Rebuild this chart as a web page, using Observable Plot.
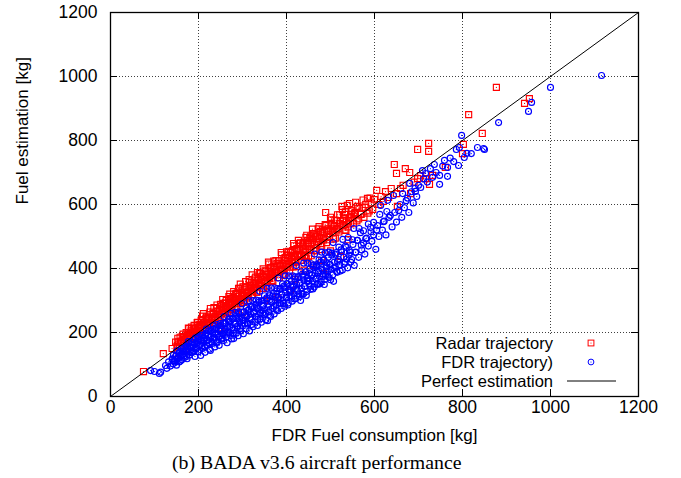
<!DOCTYPE html>
<html><head><meta charset="utf-8">
<script src="https://cdn.jsdelivr.net/npm/d3@7"></script>
<script src="https://cdn.jsdelivr.net/npm/@observablehq/plot@0.6"></script>
<style>
body{margin:0;background:#fff;}
#wrap{position:relative;width:681px;height:478px;}
#caption{position:absolute;top:451px;left:172px;white-space:nowrap;font-family:"Liberation Serif","Times New Roman",serif;font-size:19.8px;line-height:22px;color:#000;}
</style></head><body>
<div id="wrap"><div id="chart"></div><div id="caption">(b) BADA v3.6 aircraft performance</div></div>
<script>
const xTicks = [0, 200, 400, 600, 800, 1000, 1200];
const yTicks = [0, 200, 400, 600, 800, 1000, 1200];
const xLabel = "FDR Fuel consumption [kg]";
const yLabel = "Fuel estimation [kg]";
const legendLabels = ["Radar trajectory", "FDR trajectory)", "Perfect estimation"];
const perfectLine = [[0, 0], [1200, 1200]];

// Radar trajectory estimates [FDR fuel, estimated fuel]
const radarPoints = [
[75,78],[120,134],[140,150],[148,170],[150,135],[152,160],[158,185],[160,172],[165,195],[168,178],[170,150],[172,200],[175,190],
[178,212],[180,185],[183,205],[186,196],[190,222],[192,210],[195,200],[197,231],[200,215],[200,180],[203,206],[206,238],[208,222],
[211,259],[213,230],[216,214],[219,245],[222,236],[225,228],[228,256],[231,244],[235,278],[237,250],[240,238],[243,265],[246,255],
[249,246],[250,215],[252,282],[254,268],[257,291],[259,258],[262,276],[265,262],[268,296],[270,283],[273,306],[275,272],[278,290],
[281,300],[283,278],[286,318],[288,296],[291,338],[293,305],[296,290],[300,325],[300,262],[302,312],[305,300],[308,335],[311,322],
[314,308],[318,347],[320,330],[323,318],[326,352],[329,340],[332,326],[335,362],[338,346],[341,384],[343,355],[346,338],[349,372],
[350,300],[352,360],[355,345],[358,390],[361,372],[364,403],[366,380],[369,360],[372,398],[375,386],[379,416],[379,309],[381,392],
[384,372],[387,410],[390,398],[393,380],[396,425],[399,405],[402,441],[404,415],[407,392],[409,450],[409,331],[412,428],[414,456],
[415,405],[418,440],[420,365],[421,420],[424,462],[427,488],[430,445],[433,425],[436,470],[439,481],[440,395],[442,452],[445,432],
[448,488],[450,478],[453,460],[456,440],[458,495],[460,410],[461,509],[464,475],[467,455],[470,500],[473,485],[477,516],[480,470],
[480,425],[483,495],[484,384],[486,512],[489,575],[492,490],[495,520],[498,500],[500,455],[501,538],[505,512],[508,530],[511,495],
[514,550],[517,525],[520,540],[523,438],[527,584],[530,556],[533,520],[536,545],[540,530],[540,490],[543,603],[546,560],[548,569],
[552,540],[556,575],[561,594],[564,555],[568,569],[572,590],[576,560],[580,600],[584,619],[588,580],[592,605],[596,585],[600,615],
[605,644],[610,600],[615,625],[620,610],[625,640],[632,622],[638,650],[645,725],[650,697],[650,634],[652,594],[659,650],[665,660],
[670,712],[680,700],[682,634],[690,670],[698,772],[698,681],[705,690],[716,681],[723,791],[723,766],[725,663],[732,691],[761,716],
[800,759],[802,788],[814,881],[845,822],[877,966],[941,916],[952,931],
[151,156],[154,171],[157,154],[161,172],[163,187],[167,169],[169,184],[173,168],[176,199],[179,188],[181,181],[184,217],[187,198],
[189,187],[193,212],[196,204],[199,223],[201,197],[204,220],[207,240],[210,214],[212,231],[214,208],[217,245],[220,231],[223,223],
[226,264],[229,243],[232,230],[234,260],[238,248],[241,275],[244,239],[247,267],[250,288],[253,258],[256,279],[258,250],[261,292],
[264,277],[267,267],[269,312],[272,288],[276,273],[279,307],[282,290],[285,322],[287,281],[290,313],[294,338],[297,303],[299,326],
[303,294],[306,343],[309,324],[312,312],[315,365],[317,336],[321,318],[324,356],[327,340],[330,373],[333,326],[336,363],[339,386],
[342,349],[345,376],[348,338],[351,393],[354,372],[357,357],[360,414],[363,385],[367,363],[370,407],[373,388],[376,425],[380,372],
[383,414],[386,394],[389,443],[392,416],[395,383],[398,434],[401,413],[405,454],[408,404],[411,440],[414,418],[417,471],[420,437],
[423,406],[426,460],[429,438],[432,480],[435,426],[438,464],[441,441],[444,497],[447,469],[450,437],[453,494],[456,470],[459,523],
[462,457],[466,499],[469,474],[472,524],[475,494],[478,459],[482,521],[485,495],[488,537],[491,481],[494,524],[497,497],[500,560],
[504,524],[507,492],[510,551],[513,523],[516,568],[519,514],[522,548],[526,594],[529,534],[532,569],[535,519],[538,597],[542,558],
[545,540],[549,582],[553,564],[557,607],[560,549],[565,588],[570,570],[574,614],[579,591],[585,573],[590,620],
[153,182],[159,169],[166,186],[171,178],[177,214],[182,198],[188,214],[194,198],[198,232],[203,225],[209,251],[215,226],[218,249],
[224,242],[227,275],[233,261],[236,241],[242,286],[248,273],[251,261],[255,303],[260,278],[263,300],[266,274],[271,320],[274,304],
[277,291],[280,328],[284,304],[289,324],[292,298],[295,351],[298,316],[301,343],[304,316],[307,359],[310,341],[313,329],[316,357],
[319,345],[322,380],[325,332],[328,367],[331,354],[334,387],[337,350],[340,374],[344,365],[347,399],[350,361],[353,392],[356,381],
[359,420],[362,369],[365,402],[368,386],[371,423],[374,404],[377,388],[382,424],[385,408],[388,450],[391,395],[394,429],[397,417],
[400,452],[403,431],[406,414],[410,451],[413,434],[416,478],[419,423],[422,456],[425,442],[428,479],[431,457],[434,438],[437,476],
[443,461],[446,504],[449,480],[452,457],[455,501],[458,481],[463,505],[468,482],[474,531],[479,508],[484,489],[490,534],[496,516],
[502,552],[509,534],[515,520],[521,568],[528,549],[534,577],[541,546],[547,580],[555,572]
];

// FDR trajectory estimates [FDR fuel, estimated fuel]
const fdrPoints = [
[91,81],[100,78],[111,72],[114,76],[125,97],[128,88],[132,108],[136,95],[140,118],[142,102],[145,112],[148,125],[150,98],[152,120],
[155,135],[156,108],[158,126],[160,142],[162,115],[164,132],[166,150],[168,122],[170,140],[172,158],[174,118],[176,148],[178,165],
[180,130],[182,152],[184,170],[186,138],[188,160],[190,178],[192,125],[194,148],[196,168],[198,185],[200,140],[202,158],[204,175],
[205,128],[207,192],[209,150],[211,168],[213,182],[215,138],[217,198],[219,160],[221,176],[223,205],[225,148],[227,144],[229,188],
[231,166],[233,210],[235,178],[237,155],[239,196],[241,215],[243,170],[245,186],[247,160],[249,205],[251,222],[253,180],[255,195],
[257,175],[259,228],[261,210],[263,185],[265,168],[267,200],[269,236],[271,218],[273,191],[275,180],[277,242],[279,208],[280,181],
[282,226],[284,250],[286,198],[288,215],[290,190],[292,258],[294,232],[296,205],[298,245],[300,220],[302,196],[304,265],[306,238],
[308,212],[310,250],[312,226],[314,272],[316,205],[318,258],[320,240],[322,280],[324,218],[326,264],[328,232],[330,288],[332,250],
[334,222],[336,275],[338,295],[340,242],[341,262],[343,232],[345,282],[347,300],[349,255],[351,272],[353,240],[355,308],[357,237],
[358,288],[360,265],[362,315],[364,250],[366,295],[368,275],[370,322],[372,258],[374,302],[376,285],[378,330],[380,268],[382,310],
[384,292],[386,338],[388,275],[390,318],[392,300],[394,345],[396,282],[398,325],[400,308],[402,352],[404,292],[406,335],[408,315],
[409,331],[411,360],[413,298],[415,342],[417,322],[419,368],[421,306],[423,350],[425,330],[427,375],[429,312],[431,356],[432,300],
[434,338],[436,382],[438,320],[440,362],[442,345],[444,390],[446,328],[447,362],[449,370],[451,352],[453,398],[455,335],[457,378],
[459,360],[461,405],[463,342],[465,385],[467,368],[469,412],[471,350],[473,392],[475,375],[477,420],[479,358],[481,398],[483,382],
[485,428],[487,366],[489,381],[491,405],[493,390],[495,435],[497,372],[499,412],[501,398],[503,442],[505,380],[507,360],[509,420],
[511,405],[513,450],[515,388],[518,428],[521,412],[524,458],[527,395],[530,435],[533,420],[536,466],[539,402],[542,442],[545,450],
[548,428],[551,475],[554,410],[557,450],[561,488],[564,435],[568,512],[571,458],[575,480],[578,445],[582,495],[586,470],[591,528],
[594,485],[598,505],[603,460],[607,534],[610,500],[614,597],[618,520],[622,548],[626,505],[630,613],[633,560],[636,566],[640,530],
[643,628],[646,575],[650,545],[655,581],[658,600],[662,560],[664,634],[668,590],[672,612],[675,620],[678,575],[680,666],[684,640],
[688,605],[692,650],[693,641],[696,625],[700,660],[705,653],[709,706],[712,680],[716,697],[720,670],[727,712],[732,685],[736,725],
[740,700],[748,691],[748,663],[755,720],[759,738],[766,716],[766,688],[772,745],[780,734],[786,772],[791,722],[793,778],[798,816],
[804,747],[810,760],[820,759],[834,778],[848,775],[850,772],[882,856],[950,891],[957,919],[1000,966],[1116,1003],
[141,116],[143,129],[146,108],[149,128],[151,143],[153,119],[157,138],[159,111],[161,150],[163,130],[165,140],[167,127],[169,154],
[171,142],[173,125],[175,156],[177,172],[179,141],[181,157],[183,137],[185,152],[187,168],[189,140],[191,164],[193,183],[195,152],
[197,173],[199,139],[201,187],[203,162],[206,175],[208,158],[210,191],[212,176],[214,154],[216,192],[218,211],[220,174],[222,193],
[224,168],[226,185],[228,205],[230,170],[232,200],[234,222],[236,184],[238,209],[240,168],[242,225],[244,195],[246,209],[248,188],
[250,228],[252,209],[254,183],[256,228],[258,250],[260,205],[262,228],[264,198],[266,218],[268,241],[270,200],[272,234],[274,260],
[276,215],[278,245],[281,197],[283,263],[285,228],[287,244],[289,220],[291,265],[293,243],[295,212],[297,264],[299,290],[301,238],
[303,264],[305,229],[307,252],[309,278],[311,230],[313,269],[315,299],[317,247],[319,281],[321,225],[323,300],[325,260],[327,278],
[329,250],[331,301],[333,276],[335,241],[337,300],[339,329],[342,270],[344,299],[346,260],[348,285],[350,315],[352,260],[354,304],
[356,338],[359,280],[361,318],[363,254],[365,339],[367,294],[369,314],[371,282],[373,339],[375,311],[377,271],[379,337],[381,370],
[383,303],[385,335],[387,290],[389,319],[391,352],[393,291],[395,340],[397,377],[399,311],[401,353],[403,286],[405,377],[407,326],
[410,349],[412,313],[414,377],[416,345],[418,305],[420,374],[422,409],[424,335],[426,371],[428,321],[430,353],[433,390],[435,322],
[437,376],[439,417],[441,344],[443,390],[445,316],[448,417],[450,360],[452,384],[454,345],[456,415],[458,380],[460,336],[462,411],
[464,445],[466,368],[468,407],[470,353],[472,387],[474,427],[476,352],[478,411],[480,451],[482,376],[484,426],[486,350],[488,449],
[490,392],[492,418],[494,375],[496,451],[498,413],[500,365],[503,448],[506,481],[508,401],[511,445],[514,391],[516,423],[519,467],
[522,392],[525,452],[528,491],[531,414],[534,470],[537,430],[540,497],[543,456],[546,420],[550,490],[553,525],[557,451],[561,488],
[565,525],[570,473],[575,518],[580,493],[586,539],[592,515],[598,544],[605,520],[612,569],[620,546],[628,578]
];

const FONT = '"Liberation Sans", Arial, Helvetica, sans-serif';
const RED = "#ff0000", BLUE = "#0000ff";
const TICK = 7;

function legendBg(index, scales, values, dim) {
  const right = dim.width - dim.marginRight, bottom = dim.height - dim.marginBottom;
  return d3.create("svg:rect").attr("x", right - 238).attr("y", bottom - 62)
    .attr("width", 237).attr("height", 61).attr("fill", "#fff").node();
}
function legend(index, scales, values, dim) {
  const right = dim.width - dim.marginRight, bottom = dim.height - dim.marginBottom;
  const g = d3.create("svg:g").attr("font-family", FONT).attr("font-size", 16.5);
  const rows = [bottom - 53, bottom - 34, bottom - 15];
  legendLabels.forEach((t, i) => {
    g.append("text").attr("x", right - 85).attr("y", rows[i]).attr("dy", "0.35em")
      .attr("text-anchor", "end").attr("fill", "#000").text(t);
  });
  const sx = right - 47;
  const s = 5.8;
  g.append("rect").attr("x", sx - s/2).attr("y", rows[0] - s/2).attr("width", s).attr("height", s)
    .attr("fill", "none").attr("stroke", RED);
  g.append("circle").attr("cx", sx).attr("cy", rows[0]).attr("r", 0.6).attr("fill", RED);
  g.append("circle").attr("cx", sx).attr("cy", rows[1]).attr("r", 2.9).attr("fill", "none").attr("stroke", BLUE);
  g.append("circle").attr("cx", sx).attr("cy", rows[1]).attr("r", 0.6).attr("fill", BLUE);
  g.append("line").attr("x1", right - 71).attr("x2", right - 22).attr("y1", rows[2]).attr("y2", rows[2])
    .attr("stroke", "#000");
  return g.node();
}

const W = 681, H = 450;
const plot = Plot.plot({
  width: W, height: H,
  marginLeft: 110, marginRight: 43, marginTop: 12, marginBottom: 54,
  style: {fontFamily: FONT, fontSize: "17px", background: "#fff", overflow: "visible"},
  x: {domain: [0, 1200], axis: null},
  y: {domain: [0, 1200], axis: null},
  marks: [
    Plot.ruleX(xTicks.slice(1, -1), {stroke: "#000", strokeOpacity: 0.75, strokeDasharray: "1,2"}),
    Plot.ruleY(yTicks.slice(1, -1), {stroke: "#000", strokeOpacity: 0.75, strokeDasharray: "1,2"}),
    legendBg,
    Plot.dot(radarPoints, {x: d => d[0], y: d => d[1], symbol: "square", r: 3.4, stroke: RED, fill: "none", strokeWidth: 1.15}),
    Plot.dot(radarPoints, {x: d => d[0], y: d => d[1], r: 0.6, fill: RED, stroke: null}),
    Plot.dot(fdrPoints, {x: d => d[0], y: d => d[1], r: 3.0, stroke: BLUE, fill: "none", strokeWidth: 1.15}),
    Plot.dot(fdrPoints, {x: d => d[0], y: d => d[1], r: 0.6, fill: BLUE, stroke: null}),
    Plot.line(perfectLine, {x: d => d[0], y: d => d[1], stroke: "#000", strokeWidth: 1}),
    legend,
    Plot.ruleX(xTicks.slice(1, -1), {stroke: "#000", insetTop: H - 12 - 54 - TICK}),
    Plot.ruleX(xTicks.slice(1, -1), {stroke: "#000", insetBottom: H - 12 - 54 - TICK}),
    Plot.ruleY(yTicks.slice(1, -1), {stroke: "#000", insetRight: W - 110 - 43 - TICK}),
    Plot.ruleY(yTicks.slice(1, -1), {stroke: "#000", insetLeft: W - 110 - 43 - TICK}),
    Plot.frame({stroke: "#000", strokeWidth: 1.3}),
    Plot.text(xTicks, {x: d => d, frameAnchor: "bottom", dy: 16, text: d => String(d), fill: "#000", fontSize: 17.5}),
    Plot.text(yTicks, {y: d => d, frameAnchor: "left", dx: -13, textAnchor: "end", text: d => String(d), fill: "#000", fontSize: 17.5}),
    Plot.text([xLabel], {frameAnchor: "bottom", dy: 44, text: d => d, fill: "#000", fontSize: 17}),
    Plot.text([yLabel], {frameAnchor: "left", dx: -88, rotate: -90, text: d => d, fill: "#000", fontSize: 17})
  ]
});
document.getElementById("chart").appendChild(plot);
</script>
</body></html>
